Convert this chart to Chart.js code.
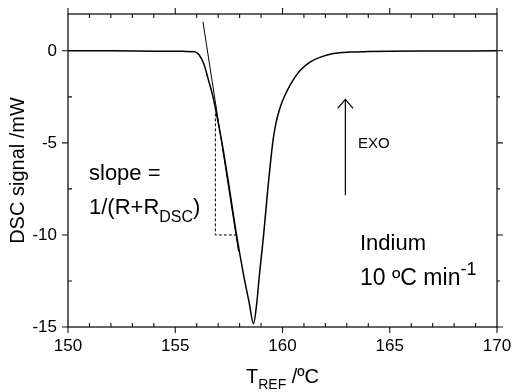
<!DOCTYPE html>
<html>
<head>
<meta charset="utf-8">
<script src="https://cdn.jsdelivr.net/npm/chart.js@4.4.1/dist/chart.umd.min.js"></script>
<style>
  html, body { margin: 0; padding: 0; background: #fff; }
</style>
</head>
<body>
<canvas id="dscChart" width="513" height="392"></canvas>
<script>
// DSC melting peak of indium
const tempC = [150, 152, 154, 155.5, 155.9, 156.1, 156.32, 156.55, 156.76, 156.95, 157.21, 157.5, 157.83,
  158.19, 158.45, 158.65, 158.8, 158.93, 159.12, 159.3, 159.56, 159.7, 159.9, 160.1, 160.36, 160.6,
  160.83, 161.3, 161.8, 162.37, 163.16, 164, 165, 167, 170];
const signalMW = [0, 0, -0.02, -0.03, -0.05, -0.2, -0.68, -1.59, -2.5, -3.59, -5.2, -7.3, -9.8,
  -12.2, -13.7, -14.82, -13.7, -12.1, -10, -7.7, -4.85, -3.9, -3.04, -2.45, -1.85, -1.4,
  -1.05, -0.6, -0.33, -0.15, -0.07, -0.04, -0.02, -0.01, 0];

// tangent drawn along the leading edge
const tangentT = [156.29, 157.95];
const tangentY = [1.58, -10.9];

// dashed construction for the slope
const stepT = [156.87, 156.87, 157.83];
const stepY = [-3.4, -10, -10];

// EXO arrow
const arrowT = [162.93, 162.93];
const arrowY = [-7.84, -2.64];
const arrowHeadT = [162.57, 162.93, 163.29];
const arrowHeadY = [-3.13, -2.64, -3.13];

const xTicks = [150, 155, 160, 165, 170];
const yTicks = [-15, -10, -5, 0];

const pts = (xs, ys) => xs.map((x, i) => ({ x: x, y: ys[i] }));
const FONT = 'Arial, "Liberation Sans", sans-serif';

const lineSet = (data, width, dash) => ({
  data: data,
  showLine: true,
  borderColor: '#000',
  borderWidth: width,
  borderDash: dash || [],
  pointRadius: 0,
  fill: false
});

// frame with ticks: major outward, minor inward (right side all outward)
const frameTicks = {
  id: 'frameTicks',
  afterDatasetsDraw(chart) {
    const ctx = chart.ctx;
    const a = chart.chartArea;
    const xs = chart.scales.x, ys = chart.scales.y;
    ctx.save();
    ctx.strokeStyle = '#111';
    ctx.lineWidth = 1.3;
    ctx.strokeRect(a.left, a.top, a.right - a.left, a.bottom - a.top);
    ctx.lineWidth = 1.1;
    ctx.beginPath();
    for (let v = 150; v <= 170; v++) {
      const px = xs.getPixelForValue(v);
      if (v % 5 === 0) {
        ctx.moveTo(px, a.bottom); ctx.lineTo(px, a.bottom + 6);
        ctx.moveTo(px, a.top); ctx.lineTo(px, a.top - 6);
      } else {
        ctx.moveTo(px, a.bottom); ctx.lineTo(px, a.bottom - 4);
        ctx.moveTo(px, a.top); ctx.lineTo(px, a.top + 4);
      }
    }
    for (let v = -15; v <= 2; v += 2.5) {
      const py = ys.getPixelForValue(v);
      if (v % 5 === 0) {
        ctx.moveTo(a.left, py); ctx.lineTo(a.left - 6, py);
        ctx.moveTo(a.right, py); ctx.lineTo(a.right + 6, py);
      } else {
        ctx.moveTo(a.left, py); ctx.lineTo(a.left + 4, py);
        ctx.moveTo(a.right, py); ctx.lineTo(a.right + 3, py);
      }
    }
    ctx.stroke();
    ctx.restore();
  }
};

// text pieces with sub/superscripts
function runs(ctx, x, y, parts) {
  parts.forEach(p => {
    ctx.font = p.size + 'px ' + FONT;
    ctx.fillText(p.t, x, y + (p.dy || 0));
    x += ctx.measureText(p.t).width;
  });
}

const labels = {
  id: 'labels',
  afterDraw(chart) {
    const ctx = chart.ctx;
    const a = chart.chartArea;
    ctx.save();
    ctx.fillStyle = '#000';
    ctx.textBaseline = 'alphabetic';
    ctx.textAlign = 'left';
    runs(ctx, 89, 180, [{ t: 'slope =', size: 22 }]);
    runs(ctx, 89, 214, [{ t: '1/(R+R', size: 22 }, { t: 'DSC', size: 16, dy: 8 }, { t: ')', size: 22 }]);
    runs(ctx, 358, 148, [{ t: 'EXO', size: 15 }]);
    runs(ctx, 360, 250, [{ t: 'Indium', size: 22 }]);
    runs(ctx, 360, 285, [{ t: '10 \u00baC min', size: 23 }, { t: '-1', size: 18, dy: -10 }]);
    // x axis title with subscript
    const parts = [{ t: 'T', size: 20 }, { t: 'REF', size: 14, dy: 6 }, { t: ' /\u00baC', size: 20 }];
    let w = 0;
    parts.forEach(p => { ctx.font = p.size + 'px ' + FONT; w += ctx.measureText(p.t).width; });
    runs(ctx, (a.left + a.right) / 2 - w / 2, 383, parts);
    ctx.restore();
  }
};

new Chart(document.getElementById('dscChart').getContext('2d'), {
  type: 'scatter',
  data: {
    datasets: [
      Object.assign(lineSet(pts(tempC, signalMW), 1.5), { cubicInterpolationMode: 'monotone' }),
      lineSet(pts(tangentT, tangentY), 1),
      lineSet(pts(stepT, stepY), 1, [3, 2]),
      lineSet(pts(arrowT, arrowY), 1.2),
      lineSet(pts(arrowHeadT, arrowHeadY), 1.2)
    ]
  },
  options: {
    responsive: false,
    devicePixelRatio: 1,
    animation: false,
    layout: { padding: { top: 14, right: 16, left: 0, bottom: 0 } },
    plugins: { legend: { display: false }, tooltip: { enabled: false } },
    scales: {
      x: {
        type: 'linear', min: 150, max: 170,
        afterBuildTicks: s => { s.ticks = xTicks.map(v => ({ value: v })); },
        afterFit: s => { s.height = 65; s.paddingLeft = 0; s.paddingRight = 0; },
        grid: { display: false, drawTicks: false },
        border: { display: false },
        ticks: { color: '#000', font: { size: 17, family: FONT }, padding: 9, maxRotation: 0 }
      },
      y: {
        type: 'linear', min: -15, max: 2,
        afterBuildTicks: s => { s.ticks = yTicks.map(v => ({ value: v })); },
        afterFit: s => { s.width = 68; s.paddingTop = 0; s.paddingBottom = 0; },
        grid: { display: false, drawTicks: false },
        border: { display: false },
        ticks: { color: '#000', font: { size: 17, family: FONT }, padding: 11 },
        title: { display: true, text: 'DSC signal /mW', color: '#000', font: { size: 20, family: FONT }, padding: { top: 6, bottom: 0 } }
      }
    }
  },
  plugins: [frameTicks, labels]
});
</script>
</body>
</html>
